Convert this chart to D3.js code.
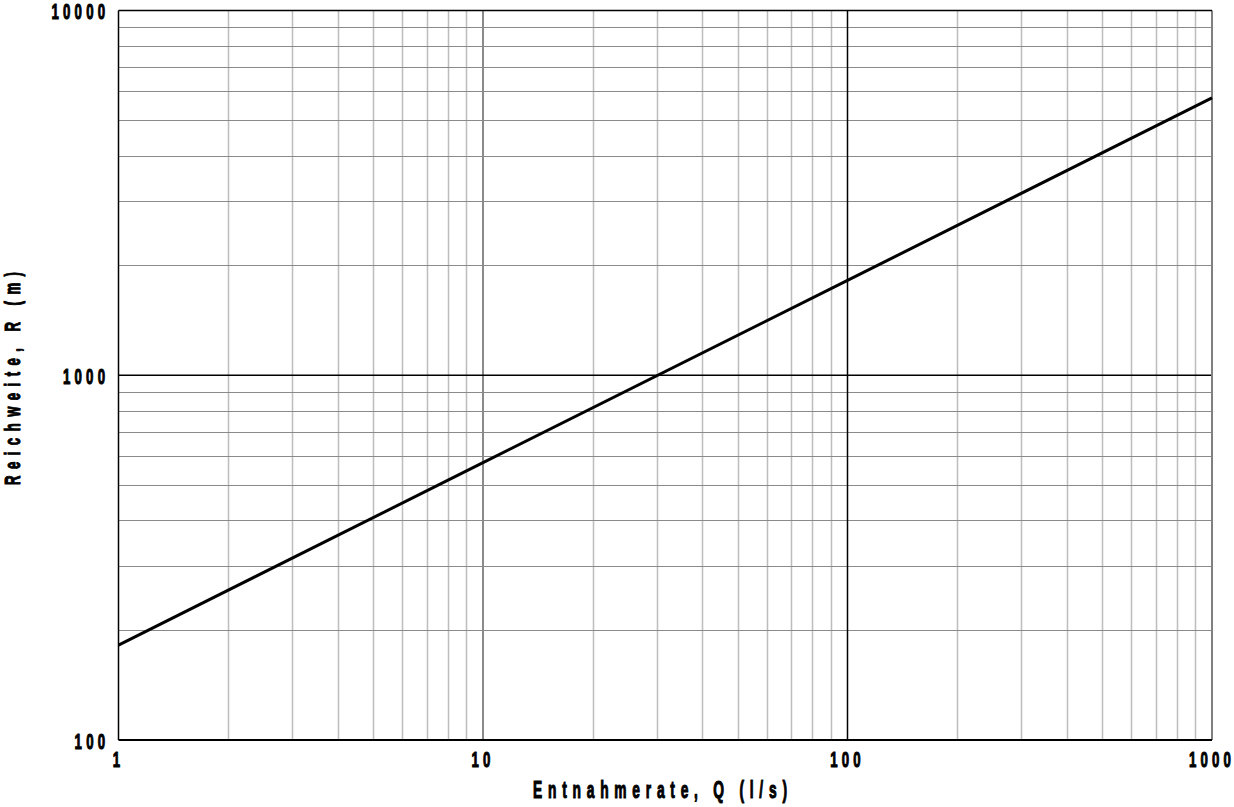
<!DOCTYPE html>
<html><head><meta charset="utf-8">
<script src="https://cdn.jsdelivr.net/npm/d3@7"></script>
<style>body{margin:0;background:#fff}svg{display:block}</style>
</head><body>
<script>
const flowQ = [1, 10, 100, 1000];
const reachR = [182, 576, 1820, 5760];
const xTickLabels = ["1", "10", "100", "1000"];
const yTickLabels = ["100", "1000", "10000"];
const xTitle = "Entnahmerate, Q (l/s)";
const yTitle = "Reichweite, R (m)";

const W = 1234, H = 807;
const m = {left: 118.5, right: 1212, top: 10.5, bottom: 740};
const svg = d3.select("body").append("svg").attr("width", W).attr("height", H);
const x = d3.scaleLog().domain([1, 1000]).range([m.left, m.right]);
const y = d3.scaleLog().domain([100, 10000]).range([m.bottom, m.top]);
const FONT = "'Liberation Sans', Arial, sans-serif";
const SX = 0.6;

// minor grid
const minorX = [], minorY = [];
for (let d = 1; d < 1000; d *= 10) for (let k = 2; k <= 9; k++) minorX.push(d * k);
for (let d = 100; d < 10000; d *= 10) for (let k = 2; k <= 9; k++) minorY.push(d * k);
svg.append("g").selectAll("line").data(minorX).join("line")
  .attr("x1", d => Math.round(x(d)) + 0.5).attr("x2", d => Math.round(x(d)) + 0.5)
  .attr("y1", m.top).attr("y2", m.bottom).attr("stroke", "#bdbdbd").attr("stroke-width", 1.5);
svg.append("g").selectAll("line").data(minorY).join("line")
  .attr("y1", d => Math.round(y(d)) + 0.5).attr("y2", d => Math.round(y(d)) + 0.5)
  .attr("x1", m.left).attr("x2", m.right).attr("stroke", "#8a8a8a").attr("stroke-width", 1.2);
// major grid
svg.append("line").attr("x1", x(10)).attr("x2", x(10)).attr("y1", m.top).attr("y2", m.bottom)
  .attr("stroke", "#8a8a8a").attr("stroke-width", 2);
svg.append("line").attr("x1", x(100)).attr("x2", x(100)).attr("y1", m.top).attr("y2", m.bottom)
  .attr("stroke", "#000").attr("stroke-width", 1.5);
svg.append("line").attr("y1", y(1000)).attr("y2", y(1000)).attr("x1", m.left).attr("x2", m.right)
  .attr("stroke", "#000").attr("stroke-width", 1.5);
// frame
svg.append("line").attr("x1", m.right).attr("x2", m.right).attr("y1", m.top).attr("y2", m.bottom)
  .attr("stroke", "#808080").attr("stroke-width", 2);
svg.append("line").attr("x1", m.left).attr("x2", m.right).attr("y1", m.top).attr("y2", m.top)
  .attr("stroke", "#000").attr("stroke-width", 1.5);
svg.append("line").attr("x1", m.left).attr("x2", m.left).attr("y1", m.top).attr("y2", m.bottom)
  .attr("stroke", "#000").attr("stroke-width", 1.5);
svg.append("line").attr("x1", m.left).attr("x2", m.right).attr("y1", m.bottom).attr("y2", m.bottom)
  .attr("stroke", "#000").attr("stroke-width", 2);

// data line
svg.append("path").datum(flowQ.map((q, i) => [q, reachR[i]]))
  .attr("d", d3.line().x(d => x(d[0])).y(d => y(d[1])))
  .attr("fill", "none").attr("stroke", "#000").attr("stroke-width", 3);

// tick labels
const LS = 7;
function heavy(sel) {
  sel.attr("font-family", FONT).attr("font-weight", "bold")
    .attr("fill", "#000").attr("stroke", "#000").attr("stroke-width", 1.1)
    .attr("stroke-linejoin", "round");
}
svg.append("g").selectAll("text").data(xTickLabels).join("text")
  .attr("transform", d => `translate(${x(+d)},767) scale(${SX},1)`)
  .attr("text-anchor", "middle").attr("font-size", 22).attr("letter-spacing", LS)
  .call(heavy).text(d => d);
svg.append("g").selectAll("text").data(yTickLabels).join("text")
  .attr("transform", d => `translate(${105 + LS * SX},${y(+d) + 8.5}) scale(${SX},1)`)
  .attr("text-anchor", "end").attr("font-size", 22).attr("letter-spacing", LS)
  .call(heavy).text(d => d);

// axis titles
svg.append("text").attr("transform", `translate(660,798) scale(${SX},1)`)
  .attr("text-anchor", "middle").attr("font-size", 23)
  .attr("textLength", 254 / SX).attr("lengthAdjust", "spacing")
  .call(heavy).text(xTitle);
svg.append("text").attr("transform", `translate(20,378.5) rotate(-90) scale(${SX},1)`)
  .attr("text-anchor", "middle").attr("font-size", 22)
  .attr("textLength", 213 / SX).attr("lengthAdjust", "spacing")
  .call(heavy).text(yTitle);
</script>
</body></html>
